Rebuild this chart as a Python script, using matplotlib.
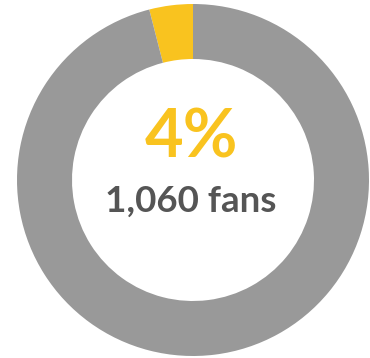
import matplotlib.pyplot as plt

share = [4, 96]
colors = ['#F9C31F', '#999999']
pct_label = '4%'
count_label = '1,060 fans'

fig = plt.figure(figsize=(3.70, 3.58), dpi=100)
ax = fig.add_axes([0, 0, 1, 1])

ax.pie(share, colors=colors, startangle=90, counterclock=True,
       center=(193, 178), radius=176, frame=True,
       wedgeprops=dict(width=55, linewidth=0))
ax.set_xlim(0, 370)
ax.set_ylim(0, 358)
ax.set_aspect('equal')
ax.axis('off')

ax.text(191, 220, pct_label, ha='center', va='center', fontsize=48,
        color='#F9C31F', family='Lato', fontweight='bold')
ax.text(191, 157, count_label, ha='center', va='center', fontsize=26.5,
        color='#555555', family='Lato', fontweight='bold')

plt.savefig('out.png', dpi=100)
